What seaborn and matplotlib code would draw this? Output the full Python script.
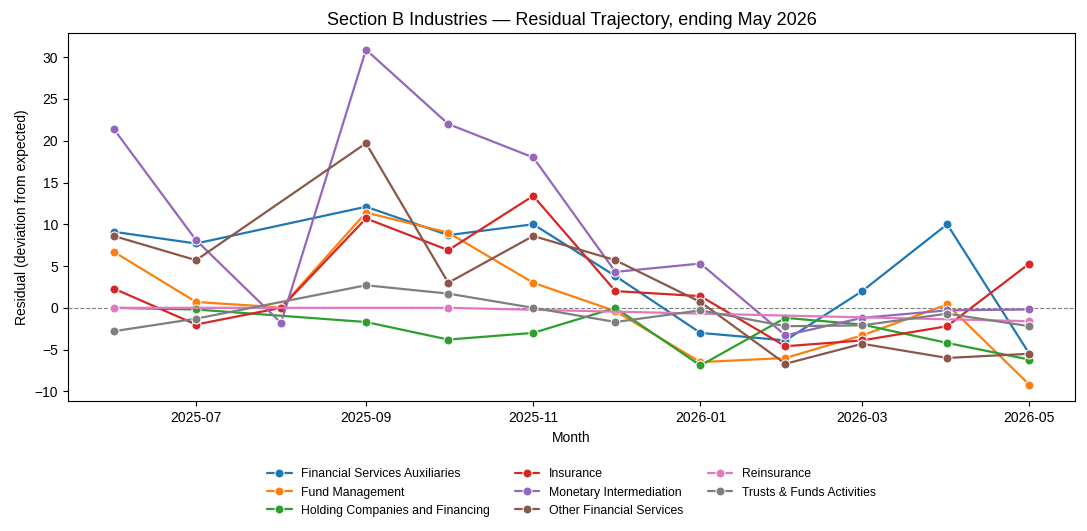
import numpy as np
import pandas as pd
import matplotlib
matplotlib.use("Agg")
import matplotlib.pyplot as plt
import seaborn as sns

months = ["2025-06", "2025-07", "2025-08", "2025-09", "2025-10", "2025-11",
          "2025-12", "2026-01", "2026-02", "2026-03", "2026-04", "2026-05"]

industries = ["Financial Services Auxiliaries", "Fund Management",
              "Holding Companies and Financing", "Insurance",
              "Monetary Intermediation", "Other Financial Services",
              "Reinsurance", "Trusts & Funds Activities"]

nan = np.nan
financial_services_aux = [9.1, 7.7, nan, 12.1, 8.7, 10.0, 3.8, -3.0, -3.9, 2.0, 10.0, -5.5]
fund_management = [6.7, 0.7, 0.05, 11.4, 9.0, 3.0, -0.4, -6.5, -6.0, -3.3, 0.4, -9.2]
holding_companies = [0.0, -0.2, nan, -1.7, -3.8, -3.0, 0.0, -6.9, -1.2, -2.0, -4.2, -6.2]
insurance = [2.3, -2.0, 0.0, 10.7, 6.9, 13.4, 2.0, 1.4, -4.6, -3.9, -2.2, 5.3]
monetary_intermediation = [21.4, 8.1, -1.8, 30.9, 22.0, 18.0, 4.3, 5.3, -3.3, -1.2, -0.3, -0.2]
other_financial = [8.6, 5.7, nan, 19.7, 3.0, 8.6, 5.7, 0.7, -6.7, -4.3, -6.0, -5.5]
reinsurance = [0.0, nan, nan, nan, 0.0, nan, nan, nan, nan, nan, nan, -1.6]
trusts_funds = [-2.8, -1.3, nan, 2.7, 1.7, 0.0, -1.7, -0.3, -2.2, -2.1, -0.7, -2.2]

series = [financial_services_aux, fund_management, holding_companies, insurance,
          monetary_intermediation, other_financial, reinsurance, trusts_funds]

rows = []
for name, vals in zip(industries, series):
    for m, v in zip(months, vals):
        if not np.isnan(v):
            rows.append({"Month": pd.Timestamp(m + "-01"), "Residual": v, "Industry": name})
df = pd.DataFrame(rows)

sns.set_style("ticks")
plt.rcParams["font.family"] = ["Liberation Sans", "DejaVu Sans"]
plt.rcParams.update({
    "text.color": "black",
    "axes.labelcolor": "black",
    "xtick.color": "black",
    "ytick.color": "black",
    "axes.edgecolor": "black",
})

fig = plt.figure(figsize=(10.87, 5.31), dpi=100)
ax = fig.add_axes([0.0626, 0.244, 0.9265, 0.694])
for s in ax.spines.values():
    s.set_visible(True)

sns.lineplot(data=df, x="Month", y="Residual", hue="Industry", hue_order=industries,
             palette="tab10", marker="o", markersize=6.5, linewidth=1.6, ax=ax)
ax.axhline(0, color="gray", linestyle="--", linewidth=0.8, zorder=0)

ax.set_title("Section B Industries \u2014 Residual Trajectory, ending May 2026", fontsize=13)
ax.set_xlabel("Month", fontsize=10)
ax.set_ylabel("Residual (deviation from expected)", fontsize=10)
ax.tick_params(labelsize=10)

handles, labels = ax.get_legend_handles_labels()
ax.legend(handles, labels, loc="upper center", bbox_to_anchor=(0.5, -0.152),
          ncol=3, frameon=False, fontsize=8.8)

fig.savefig("out.png", dpi=100)
